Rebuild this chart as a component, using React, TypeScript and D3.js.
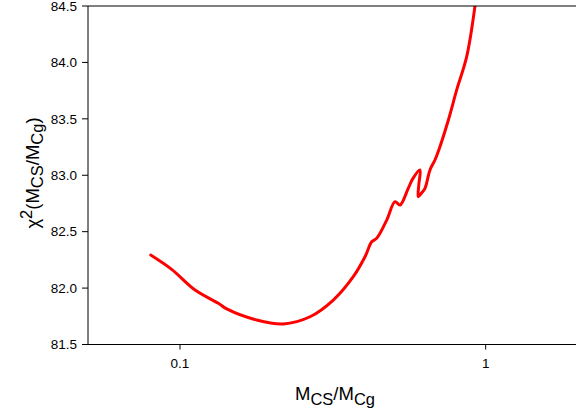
import React from "react";
import * as d3 from "d3";

const massRatio: number[] = [
  0.0802, 0.0939, 0.112, 0.1335, 0.1422, 0.1781, 0.2177, 0.2662, 0.3173, 0.3688,
  0.4029, 0.4238, 0.44, 0.4746, 0.505, 0.5244, 0.558, 0.5777, 0.6097, 0.6045,
  0.6019, 0.6160, 0.6330, 0.6573, 0.6824, 0.7085, 0.755, 0.8039, 0.8666, 0.9226,
];
const chi2: number[] = [
  82.293, 82.166, 81.983, 81.865, 81.815, 81.717, 81.682, 81.746, 81.894, 82.101,
  82.278, 82.411, 82.441, 82.603, 82.766, 82.736, 82.884, 82.97, 83.047, 82.92,
  82.81, 82.84, 82.884, 83.047, 83.135, 83.253, 83.49, 83.756, 84.051, 84.5,
];
const xTicks: number[] = [0.1, 1];
const xTickLabels: string[] = ["0.1", "1"];
const yTicks: number[] = [81.5, 82.0, 82.5, 83.0, 83.5, 84.0, 84.5];

const W = 576;
const H = 417;
const left = 88;
const top = 6;
const bottom = 344.5;
const right = 577.7;

export default function App() {
  const x = d3.scaleLog().domain([0.05, 2]).range([left, right]);
  const y = d3.scaleLinear().domain([81.5, 84.5]).range([bottom, top]);
  const pts: [number, number][] = massRatio.map((m, i) => [m, chi2[i]]);
  const line = d3
    .line<[number, number]>()
    .x((d) => x(d[0]))
    .y((d) => y(d[1]))
    .curve(d3.curveCatmullRom.alpha(0.5));
  const font = "'Liberation Sans', Arial, sans-serif";
  const F = 18.5;
  const f = 16.5;
  return (
    <svg
      width={W}
      height={H}
      style={{ position: "absolute", left: 0, top: 0, background: "#fff" }}
      fontFamily={font}
    >
      <defs>
        <clipPath id="plotclip">
          <rect x={left} y={top} width={right - left} height={bottom - top} />
        </clipPath>
      </defs>
      <path
        d={line(pts) || ""}
        fill="none"
        stroke="#ff0000"
        strokeWidth={3}
        strokeLinejoin="round"
        strokeLinecap="round"
        clipPath="url(#plotclip)"
      />
      {/* spines */}
      <line x1={left} x2={right} y1={top} y2={top} stroke="#000" strokeWidth={1} />
      <line x1={left} x2={right} y1={bottom} y2={bottom} stroke="#000" strokeWidth={1} />
      <line x1={left} x2={left} y1={top} y2={bottom} stroke="#000" strokeWidth={1} />
      {/* y ticks */}
      {yTicks.map((t) => (
        <g key={t}>
          <line x1={left - 6} x2={left} y1={y(t)} y2={y(t)} stroke="#000" strokeWidth={1} />
          <text x={77} y={y(t)} dy="0.35em" textAnchor="end" fontSize={13.5} fill="#000">
            {t.toFixed(1)}
          </text>
        </g>
      ))}
      {/* x ticks */}
      {xTicks.map((t, i) => (
        <g key={t}>
          <line x1={x(t)} x2={x(t)} y1={bottom} y2={bottom + 5} stroke="#000" strokeWidth={1} />
          <text x={x(t)} y={367.5} textAnchor="middle" fontSize={13.5} fill="#000">
            {xTickLabels[i]}
          </text>
        </g>
      ))}
      {/* x title */}
      <text x={335} y={400} textAnchor="middle" fontSize={F} fill="#000">
        M<tspan fontSize={f} dy={4.5}>CS</tspan>
        <tspan dy={-4.5}>/M</tspan>
        <tspan fontSize={f} dy={4.5}>Cg</tspan>
      </text>
      {/* y title */}
      <text
        transform={`translate(38.5,173) rotate(-90)`}
        textAnchor="middle"
        fontSize={F}
        fill="#000"
      >
        χ<tspan fontSize={f} dy={-7}>2</tspan>
        <tspan dy={7}>(M</tspan>
        <tspan fontSize={f} dy={4.5}>CS</tspan>
        <tspan dy={-4.5}>/M</tspan>
        <tspan fontSize={f} dy={4.5}>Cg</tspan>
        <tspan dy={-4.5}>)</tspan>
      </text>
    </svg>
  );
}
